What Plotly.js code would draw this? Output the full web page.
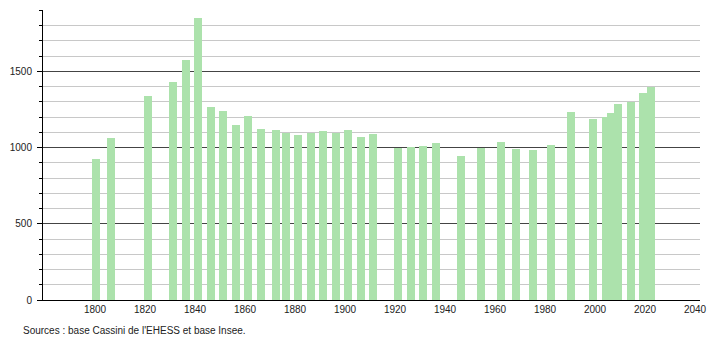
<!DOCTYPE html>
<html>
<head>
<meta charset="utf-8">
<script src="https://cdn.plot.ly/plotly-3.0.1.min.js"></script>
<style>html,body{margin:0;padding:0;background:#fff;}#chart{width:710px;height:340px;}</style>
</head>
<body>
<div id="chart"></div>
<script>
const years = [1800, 1806, 1821, 1831, 1836, 1841, 1846, 1851, 1856, 1861, 1866, 1872, 1876, 1881, 1886, 1891, 1896, 1901, 1906, 1911, 1921, 1926, 1931, 1936, 1946, 1954, 1962, 1968, 1975, 1982, 1990, 1999, 2004, 2006, 2009, 2014, 2019, 2022];
const population = [922, 1061, 1340, 1430, 1574, 1849, 1269, 1238, 1151, 1208, 1120, 1113, 1094, 1082, 1098, 1109, 1098, 1113, 1069, 1087, 995, 1003, 1010, 1028, 944, 995, 1039, 992, 982, 1014, 1230, 1190, 1203, 1225, 1283, 1301, 1357, 1400];
const xTicks = [1800, 1820, 1840, 1860, 1880, 1900, 1920, 1940, 1960, 1980, 2000, 2020, 2040];
const yTicks = [0, 500, 1000, 1500];
const sourceText = "Sources : base Cassini de l'EHESS et base Insee.";

const trace = {
  type: 'bar',
  x: years.map(y => y + 0.3),
  y: population,
  width: 3.2,
  marker: {color: 'rgb(172,226,172)', line: {width: 0}},
  hoverinfo: 'x+y'
};

const layout = {
  width: 710, height: 340,
  margin: {l: 43, r: 10, t: 10, b: 40, pad: 0},
  paper_bgcolor: '#fff', plot_bgcolor: '#fff',
  showlegend: false,
  font: {family: 'Liberation Sans, Arial, sans-serif', size: 10, color: '#222'},
  xaxis: {
    range: [1779.2, 2042],
    tickmode: 'array', tickvals: xTicks, ticktext: xTicks.map(String),
    ticks: '', showgrid: false, zeroline: false,
    showline: true, linecolor: '#000', linewidth: 1,
    tickfont: {size: 10, color: '#222'}
  },
  yaxis: {
    range: [0, 1902],
    tickmode: 'array', tickvals: yTicks, ticktext: yTicks.map(String),
    ticks: 'outside', ticklen: 5, tickcolor: '#000', tickwidth: 1,
    showgrid: true, gridcolor: '#444', gridwidth: 1,
    zeroline: false, showline: true, linecolor: '#000', linewidth: 1,
    tickfont: {size: 10, color: '#222'},
    ticklabelstandoff: 3,
    minor: {dtick: 100, tick0: 0, ticks: 'outside', ticklen: 3, tickcolor: '#000', showgrid: true, gridcolor: '#c8c8c8', gridwidth: 1}
  },
  annotations: [{
    text: sourceText, xref: 'paper', yref: 'paper',
    x: -22/657, y: -30/290, xanchor: 'left', yanchor: 'middle',
    showarrow: false, font: {size: 10, color: '#222'}
  }],
  bargap: 0
};

Plotly.newPlot('chart', [trace], layout, {displayModeBar: false, staticPlot: true});
</script>
</body>
</html>
